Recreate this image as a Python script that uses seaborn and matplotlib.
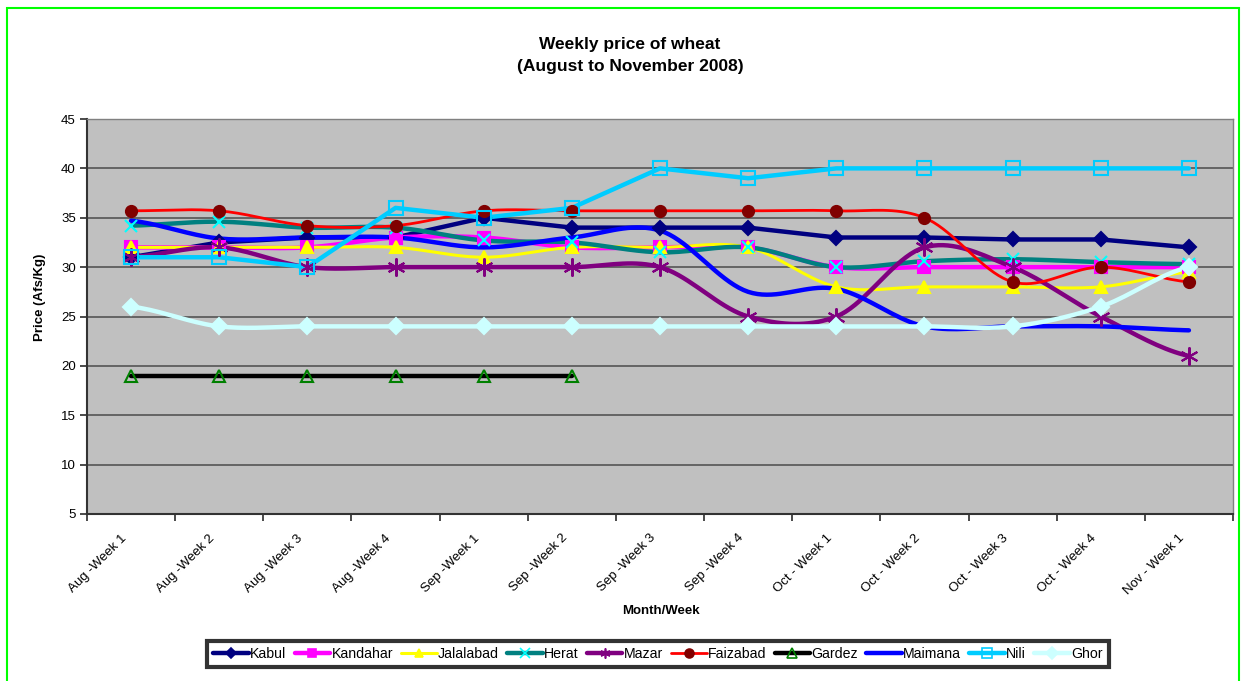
import numpy as np
import pandas as pd
import matplotlib
matplotlib.use("Agg")
import matplotlib.pyplot as plt
from matplotlib.lines import Line2D
from matplotlib.patches import Rectangle
import seaborn as sns

# ---- data ----
weeks = ["Aug -Week 1", "Aug -Week 2", "Aug -Week 3", "Aug -Week 4",
         "Sep -Week 1", "Sep -Week 2", "Sep -Week 3", "Sep -Week 4",
         "Oct - Week 1", "Oct - Week 2", "Oct - Week 3", "Oct - Week 4",
         "Nov - Week 1"]

kabul = [31, 32.5, 33, 33, 35, 34, 34, 34, 33, 33, 32.8, 32.8, 32]
kandahar = [32, 32, 32, 33, 33, 32, 32, 32, 30, 30, 30, 30, 30]
jalalabad = [32, 32, 32, 32, 31, 32, 32, 32, 28, 28, 28, 28, 29.5]
herat = [34.2, 34.6, 34, 34, 32.7, 32.5, 31.5, 32, 30, 30.6, 30.8, 30.5, 30.3]
mazar = [31, 32, 30, 30, 30, 30, 30, 25, 25, 32, 30, 25, 21]
faizabad = [35.7, 35.7, 34.2, 34.2, 35.7, 35.7, 35.7, 35.7, 35.7, 35, 28.5, 30, 28.5]
gardez = [19, 19, 19, 19, 19, 19, None, None, None, None, None, None, None]
maimana = [34.7, 32.9, 33, 33, 32, 33, 33.7, 27.5, 27.8, 24, 24, 24, 23.6]
nili = [31, 31, 30, 36, 35, 36, 40, 39, 40, 40, 40, 40, 40]
ghor = [26, 24, 24, 24, 24, 24, 24, 24, 24, 24, 24, 26, 30]

# name, values, line colour, line width, marker, face, edge, marker size, smooth
series = [
    ("Kabul", kabul, "#000080", 3.2, "D", "#000080", "#000080", 7, False),
    ("Kandahar", kandahar, "#FF00FF", 3.2, "s", "#FF00FF", "#FF00FF", 8, True),
    ("Jalalabad", jalalabad, "#FFFF00", 2.2, "^", "#FFFF00", "#FFFF00", 8, True),
    ("Herat", herat, "#008080", 3.2, "x", "#00FFFF", "#00FFFF", 9, True),
    ("Mazar", mazar, "#800080", 3.2, (6, 2, 0), "#800080", "#800080", 13, True),
    ("Faizabad", faizabad, "#FF0000", 2.0, "o", "#800000", "#800000", 8, True),
    ("Gardez", gardez, "#000000", 3.2, "^", "none", "#008000", 9, False),
    ("Maimana", maimana, "#0000FF", 3.2, None, "none", "none", 0, True),
    ("Nili", nili, "#00CCFF", 3.2, "s", "none", "#00CCFF", 10, False),
    ("Ghor", ghor, "#CCFFFF", 3.2, "D", "#CCFFFF", "#CCFFFF", 8, True),
]


def smooth(x, y, n=20):
    # Catmull-Rom curve like Excel's "smoothed line"
    x = np.asarray(x, float)
    y = np.asarray(y, float)
    px = np.concatenate([[2 * x[0] - x[1]], x, [2 * x[-1] - x[-2]]])
    py = np.concatenate([[y[0]], y, [y[-1]]])
    xs, ys = [], []
    t = np.linspace(0, 1, n)
    for i in range(1, len(px) - 2):
        p0, p1, p2, p3 = py[i - 1], py[i], py[i + 1], py[i + 2]
        ys.append(0.5 * (2 * p1 + (-p0 + p2) * t + (2 * p0 - 5 * p1 + 4 * p2 - p3) * t ** 2
                         + (-p0 + 3 * p1 - 3 * p2 + p3) * t ** 3))
        xs.append(px[i] + (px[i + 1] - px[i]) * t)
    return np.concatenate(xs), np.concatenate(ys)


sns.set_theme(style="white")
plt.rcParams["font.family"] = ["Liberation Sans", "DejaVu Sans"]
plt.rcParams["text.color"] = "black"
plt.rcParams["xtick.color"] = "black"
plt.rcParams["ytick.color"] = "black"

fig = plt.figure(figsize=(12.44, 6.81), dpi=100)
ax = fig.add_axes([87 / 1244, 1 - 514 / 681, (1233 - 87) / 1244, (514 - 119) / 681])
ax.set_facecolor("#C0C0C0")

pos = np.arange(len(weeks))
handles = []
for name, vals, lc, lw, mk, fc, ec, ms, sm in series:
    df = pd.DataFrame({"x": pos, "y": pd.to_numeric(pd.Series(vals), errors="coerce")}).dropna()
    if sm:
        sx, sy = smooth(df["x"], df["y"])
    else:
        sx, sy = df["x"].values, df["y"].values
    sns.lineplot(x=sx, y=sy, ax=ax, color=lc, lw=lw, sort=False, zorder=3)
    if mk is not None:
        ax.plot(df["x"], df["y"], ls="none", marker=mk, ms=ms, mfc=fc, mec=ec,
                mew=1.5, zorder=4)
    handles.append(Line2D([], [], color=lc, lw=lw, marker=mk, ms=min(ms, 9) * 0.8,
                          mfc=fc, mec=ec, mew=1.2, label=name))

ax.set_xlim(-0.5, len(weeks) - 0.5)
ax.set_ylim(5, 45)
ax.set_yticks(range(5, 50, 5))
ax.yaxis.grid(True, color="#555555", lw=1.2)
ax.set_axisbelow(True)
ax.set_xticks(np.arange(-0.5, len(weeks), 1), minor=False)
ax.set_xticklabels([])
# labels sit a little left of each category centre, as in the Excel original
ax.set_xticks(pos - 0.12, minor=True)
ax.set_xticklabels(weeks, minor=True, rotation=45, ha="right",
                   rotation_mode="anchor", fontsize=9.5)
ax.tick_params(axis="x", which="major", length=5, color="#333333", direction="out", bottom=True)
ax.tick_params(axis="x", which="minor", length=0, pad=13)
ax.tick_params(axis="y", length=5, color="#333333", direction="out", left=True,
               labelsize=9.5, pad=3)
for s in ["top", "right"]:
    ax.spines[s].set_color("#808080")
    ax.spines[s].set_linewidth(1)
for s in ["left", "bottom"]:
    ax.spines[s].set_color("#333333")
    ax.spines[s].set_linewidth(1.5)

fig.text(630 / 1244, 1 - 45 / 681, "Weekly price of wheat", ha="center", va="center",
         fontsize=12.5, fontweight="bold")
fig.text(630 / 1244, 1 - 67 / 681, "(August to November 2008)", ha="center", va="center",
         fontsize=12.5, fontweight="bold")
fig.text(661 / 1244, 1 - 611 / 681, "Month/Week", ha="center", va="center",
         fontsize=9.5, fontweight="bold")
fig.text(40 / 1244, 1 - 297 / 681, "Price (Afs/Kg)", ha="center", va="center",
         rotation=90, fontsize=9.5, fontweight="bold")

leg = fig.legend(handles=handles, loc="center", bbox_to_anchor=(658 / 1244, 1 - 654 / 681),
                 ncol=10, fontsize=10.2, frameon=True, fancybox=False, handlelength=2.5,
                 handletextpad=0.1, columnspacing=0.58, borderpad=0.45)
leg.get_frame().set_edgecolor("black")
leg.get_frame().set_linewidth(3)

fig.patches.append(Rectangle((7 / 1244, -0.05), (1239 - 7) / 1244, 1.05 - 8 / 681,
                             transform=fig.transFigure, fill=False, ec="#00FF00", lw=1.5))

fig.savefig("out.png", dpi=100, facecolor="white")
